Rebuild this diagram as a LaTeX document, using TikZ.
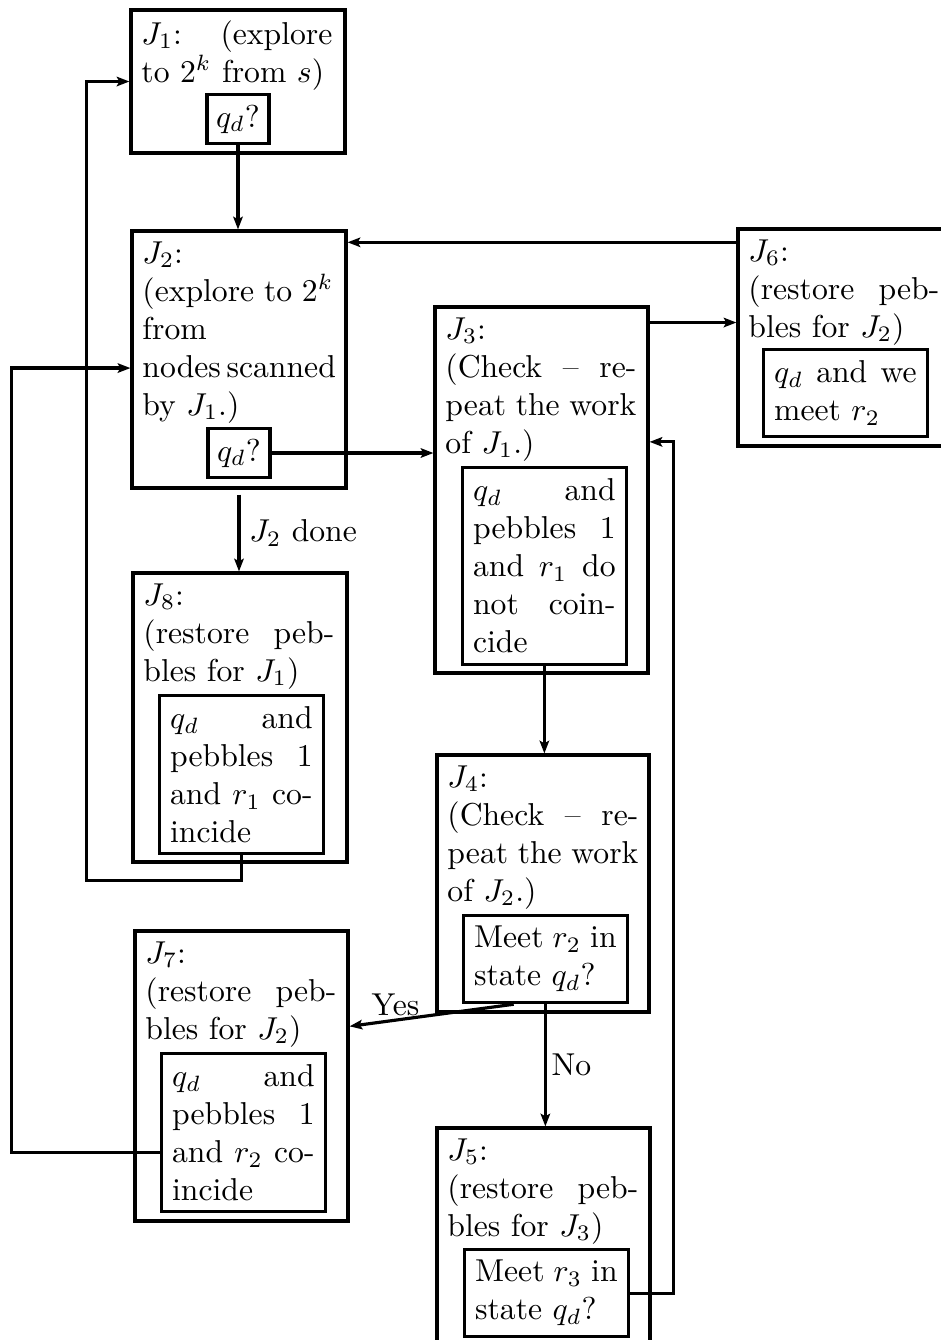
\documentclass[tikz,border=0pt]{standalone}
\usepackage{amsmath}
\usepackage{tikz}
\usetikzlibrary{arrows.meta,calc,fit,positioning}
\newcommand{\jobline}[2][60.3pt]{\leavevmode\hbox to #1{#2}}

\begin{document}
\begin{tikzpicture}[x=0.3158pt,y=-0.3158pt,>={Stealth[length=4pt,width=3pt,inset=0.8pt]},
    jobbox/.style={draw,line width=1pt,inner sep=0pt},
    jobtext/.style={anchor=north west,inner sep=3.6pt,text width=60.3pt,align=left},
    testbox/.style={draw,line width=1pt,inner sep=3.33pt,text width=45pt,align=left,anchor=north west},
    askbox/.style={draw,line width=1pt,inner sep=1pt,minimum width=19.6pt,minimum height=15.5pt},
    flow/.style={->,line width=1pt}]
    \path[use as bounding box] (0,0) rectangle (941,1340);
    \clip (0,0) rectangle (941,1340);
    % jobs
    \node[jobbox,fit={(131,10) (345,153)}] (J1) {};
    \node[jobbox,fit={(132,231) (346,488)}] (J2) {};
    \node[jobbox,fit={(435,307) (648,673)}] (J3) {};
    \node[jobbox,fit={(437,755) (649,1012)}] (J4) {};
    \node[jobbox,fit={(437,1128) (650,1370)}] (J5) {};
    \node[jobbox,fit={(738,229) (952,446)}] (J6) {};
    \node[jobbox,fit={(135,931) (348,1221)}] (J7) {};
    \node[jobbox,fit={(133,573) (347,862)}] (J8) {};
    \node[jobtext] (J1t) at (J1.north west) {\jobline{$J_1$:\hfill(explore}\\to $2^k$ from $s$)};
    \node[jobtext] (J2t) at (J2.north west) {$J_2$:\\\jobline{(explore\hfill to\hfill $2^k$}\\from\\nodes\kern1.8pt scanned\\by $J_1$.)};
    \node[jobtext] (J3t) at (J3.north west) {$J_3$:\\\jobline{(Check\hfill--\hfill re-}\\\jobline{peat\hfill the\hfill work}\\of $J_1$.)};
    \node[jobtext] (J4t) at (J4.north west) {$J_4$:\\\jobline{(Check\hfill--\hfill re-}\\\jobline{peat\hfill the\hfill work}\\of $J_2$.)};
    \node[jobtext] (J5t) at (J5.north west) {$J_5$:\\\jobline{(restore\hfill peb-}\\bles for $J_3$)};
    \node[jobtext] (J6t) at (J6.north west) {$J_6$:\\\jobline{(restore\hfill peb-}\\bles for $J_2$)};
    \node[jobtext] (J7t) at (J7.north west) {$J_7$:\\\jobline{(restore\hfill peb-}\\bles for $J_2$)};
    \node[jobtext] (J8t) at (J8.north west) {$J_8$:\\\jobline{(restore\hfill peb-}\\bles for $J_1$)};
    % tests
    \node[askbox] (J1q) at (238,119) {$q_d$?};
    \node[askbox] (J2q) at (239,453) {$q_d$?};
    \node[testbox,minimum height=62.2pt] (J3q) at (461,466) {\jobline[45pt]{$q_d$\hfill and}\\\jobline[45pt]{pebbles\hfill 1}\\\jobline[45pt]{and\hfill $r_1$\hfill do}\\\jobline[45pt]{not\hfill coin-}\\cide};
    \node[testbox,minimum height=27.5pt] (J4q) at (462,914) {\jobline[45pt]{Meet\hfill $r_2$\hfill in}\\state $q_d$?};
    \node[testbox,minimum height=27.5pt] (J5q) at (463,1248) {\jobline[45pt]{Meet\hfill $r_3$\hfill in}\\state $q_d$?};
    \node[testbox,minimum height=27.5pt] (J6q) at (762,348) {\jobline[45pt]{$q_d$\hfill and\hfill we}\\meet $r_2$};
    \node[testbox,minimum height=49.9pt] (J7q) at (160,1052) {\jobline[45pt]{$q_d$\hfill and}\\\jobline[45pt]{pebbles\hfill 1}\\\jobline[45pt]{and\hfill $r_2$\hfill co-}\\incide};
    \node[testbox,minimum height=49.9pt] (J8q) at (158,694) {\jobline[45pt]{$q_d$\hfill and}\\\jobline[45pt]{pebbles\hfill 1}\\\jobline[45pt]{and\hfill $r_1$\hfill co-}\\incide};
    % flow
    \draw[flow] (J1q.south) -- (J1q.south |- J2.north);
    \draw[flow] (J2q.east) -- (J2q.east -| J3.west);
    \draw[flow] ([yshift=-5.4pt]J3.north east) -- ([yshift=-5.4pt]J3.north east -| J6.west);
    \draw[flow] ([yshift=-4.7pt]J6.north west) -- ([yshift=-4.7pt]J6.north west -| J2.east);
    \draw[flow] ([yshift=-1.6pt]J2.south) -- (J2.south |- J8.north)
      node[midway,right,inner sep=2.8pt] {$J_2$ done};
    \draw[flow] (J3q.south) -- (J3q.south |- J4.north);
    \draw[flow] (J4q.south) -- (J4q.south |- J5.north)
      node[midway,right,inner sep=1.5pt] {No};
    \draw[flow] ($(J4q.south west)!0.31!(J4q.south east)$) -- ([yshift=-30.6pt]J7.north east)
      node[pos=0.72,above,inner sep=1pt] {Yes};
    \draw[flow] (J8q.south) -- ++(0,25) -| ([xshift=-13.6pt]J1.west) -- (J1.west);
    \draw[flow] ([yshift=-6.3pt]J7q.west) -| ([xshift=-37.6pt,yshift=-2.7pt]J2.west) -- ([yshift=-2.7pt]J2.west);
    \draw[flow] (J5q.east) -| ([xshift=7.6pt,yshift=15.2pt]J3.east) -- ([yshift=15.2pt]J3.east);
\end{tikzpicture}
\end{document}
